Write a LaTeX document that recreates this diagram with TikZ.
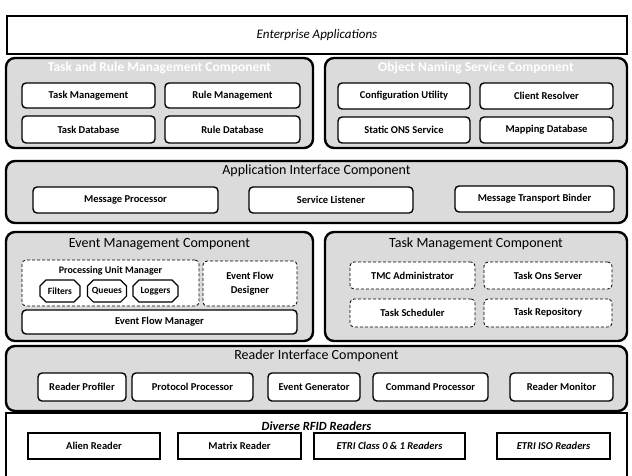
\documentclass[tikz,border=0pt]{standalone}
\usepackage{fontspec}
\setmainfont{Carlito}
\usetikzlibrary{positioning,shapes.misc}

\begin{document}
\begin{tikzpicture}[
    x=1pt,y=-1pt,
    layer/.style={draw,line width=2.4pt,rounded corners=9pt,fill=gray!28,inner sep=0pt},
    bar/.style={draw,line width=2.4pt,fill=white,inner sep=0pt},
    part/.style={draw,line width=1.4pt,rounded corners=4pt,fill=white,
                 font=\fontsize{10.5}{12}\selectfont\bfseries,align=center,inner sep=1pt},
    soft/.style={part,line width=0.8pt,densely dashed},
    unit/.style={draw,line width=1.1pt,fill=white,chamfered rectangle,
                 chamfered rectangle xsep=3pt,chamfered rectangle ysep=3pt,
                 font=\fontsize{9.5}{10}\selectfont\bfseries,inner sep=1.5pt},
    reader/.style={draw,line width=1.7pt,fill=white,inner sep=1pt,
                   font=\fontsize{10.5}{12}\selectfont\bfseries},
    head/.style={font=\fontsize{14}{16}\selectfont,inner sep=0pt},
    dimhead/.style={font=\fontsize{13.5}{15}\selectfont\bfseries,text=white,inner sep=0pt}]

\useasboundingbox (0,0) rectangle (632,475);
\clip (0,0) rectangle (632,475);

% enterprise applications
\node[bar,minimum width=620,minimum height=38] (ea) at (317,35)
    {\fontsize{13}{15}\selectfont\itshape Enterprise Applications};

% task and rule management
\node[layer,minimum width=307,minimum height=90] (trm) at (159.5,103) {};
\node[dimhead,below=5pt of trm.north] {Task and Rule Management Component};
\node[part,minimum width=133,minimum height=25] (tm) at (88.5,95.5) {Task Management};
\node[part,minimum width=135,minimum height=25] (rm) at (232.5,95.5) {Rule Management};
\node[part,minimum width=133,minimum height=27] (td) at (88.5,129.5) {Task Database};
\node[part,minimum width=135,minimum height=27] (rd) at (232.5,129.5) {Rule Database};

% object naming service
\node[layer,minimum width=302,minimum height=90] (ons) at (476,103) {};
\node[dimhead,below=5pt of ons.north] {Object Naming Service Component};
\node[part,minimum width=132,minimum height=26] (cu) at (404,96) {Configuration Utility};
\node[part,minimum width=133,minimum height=26] (cr) at (546.5,96) {Client Resolver};
\node[part,minimum width=132,minimum height=26] (so) at (404,130) {Static ONS Service};
\node[part,minimum width=133,minimum height=26] (md) at (546.5,130) {Mapping Database};

% application interface component
\node[layer,minimum width=621,minimum height=62] (aic) at (316.5,192) {};
\node[head,below=5pt of aic.north] {Application Interface Component};
\node[part,minimum width=185,minimum height=26] (mp) at (125.5,200) {Message Processor};
\node[part,minimum width=164,minimum height=26] (sl) at (331,200) {Service Listener};
\node[part,minimum width=159,minimum height=26] (mtb) at (534.5,199) {Message Transport Binder};

% event management component
\node[layer,minimum width=307,minimum height=109] (emc) at (159.5,286.5) {};
\node[head,below=7pt of emc.north] {Event Management Component};
\node[soft,minimum width=177,minimum height=46] (pum) at (110.5,283) {};
\node[font=\fontsize{10}{11}\selectfont\bfseries,below=3pt of pum.north] {Processing Unit Manager};
\node[unit,minimum width=40,minimum height=22] (fil) at (60,291) {Filters};
\node[unit,minimum width=38,minimum height=22] (que) at (107,291) {Queues};
\node[unit,minimum width=45,minimum height=22] (log) at (155.5,291) {Loggers};
\node[soft,minimum width=94,minimum height=45] (efd) at (250,283.5) {Event Flow\\[2pt]Designer};
\node[part,minimum width=275,minimum height=24] (efm) at (159.5,322) {Event Flow Manager};

% task management component
\node[layer,minimum width=302,minimum height=109] (tmc) at (476,286.5) {};
\node[head,below=7pt of tmc.north] {Task Management Component};
\node[soft,minimum width=125,minimum height=27] (adm) at (412.5,275.5) {TMC Administrator};
\node[soft,minimum width=128,minimum height=27] (tos) at (548,275.5) {Task Ons Server};
\node[soft,minimum width=125,minimum height=28] (tsc) at (412.5,313) {Task Scheduler};
\node[soft,minimum width=128,minimum height=28] (trp) at (548,313) {Task Repository};

% reader interface component
\node[layer,minimum width=621,minimum height=65] (ric) at (316.5,378.5) {};
\node[head,below=5pt of ric.north] {Reader Interface Component};
\node[part,minimum width=88,minimum height=28] (rpf) at (82,387) {Reader Profiler};
\node[part,minimum width=121,minimum height=28] (ppr) at (192.5,387) {Protocol Processor};
\node[part,minimum width=92,minimum height=28] (egn) at (314,387) {Event Generator};
\node[part,minimum width=115,minimum height=28] (cpr) at (430.5,387) {Command Processor};
\node[part,minimum width=103,minimum height=28] (rmo) at (561.5,387) {Reader Monitor};

% diverse rfid readers
\node[bar,minimum width=621,minimum height=80] (rfid) at (316.5,453) {};
\node[font=\fontsize{12.5}{14}\selectfont\itshape\bfseries,below=6pt of rfid.north] {Diverse RFID Readers};
\node[reader,minimum width=132,minimum height=26] (alr) at (94,446) {Alien Reader};
\node[reader,minimum width=123,minimum height=26] (mxr) at (239.5,446) {Matrix Reader};
\node[reader,minimum width=151,minimum height=26,font=\fontsize{10.5}{12}\selectfont\itshape\bfseries] (ecr) at (389.5,446) {ETRI Class 0 \& 1 Readers};
\node[reader,minimum width=113,minimum height=26,font=\fontsize{10.5}{12}\selectfont\itshape\bfseries] (eir) at (553.5,446) {ETRI ISO Readers};

\end{tikzpicture}
\end{document}
